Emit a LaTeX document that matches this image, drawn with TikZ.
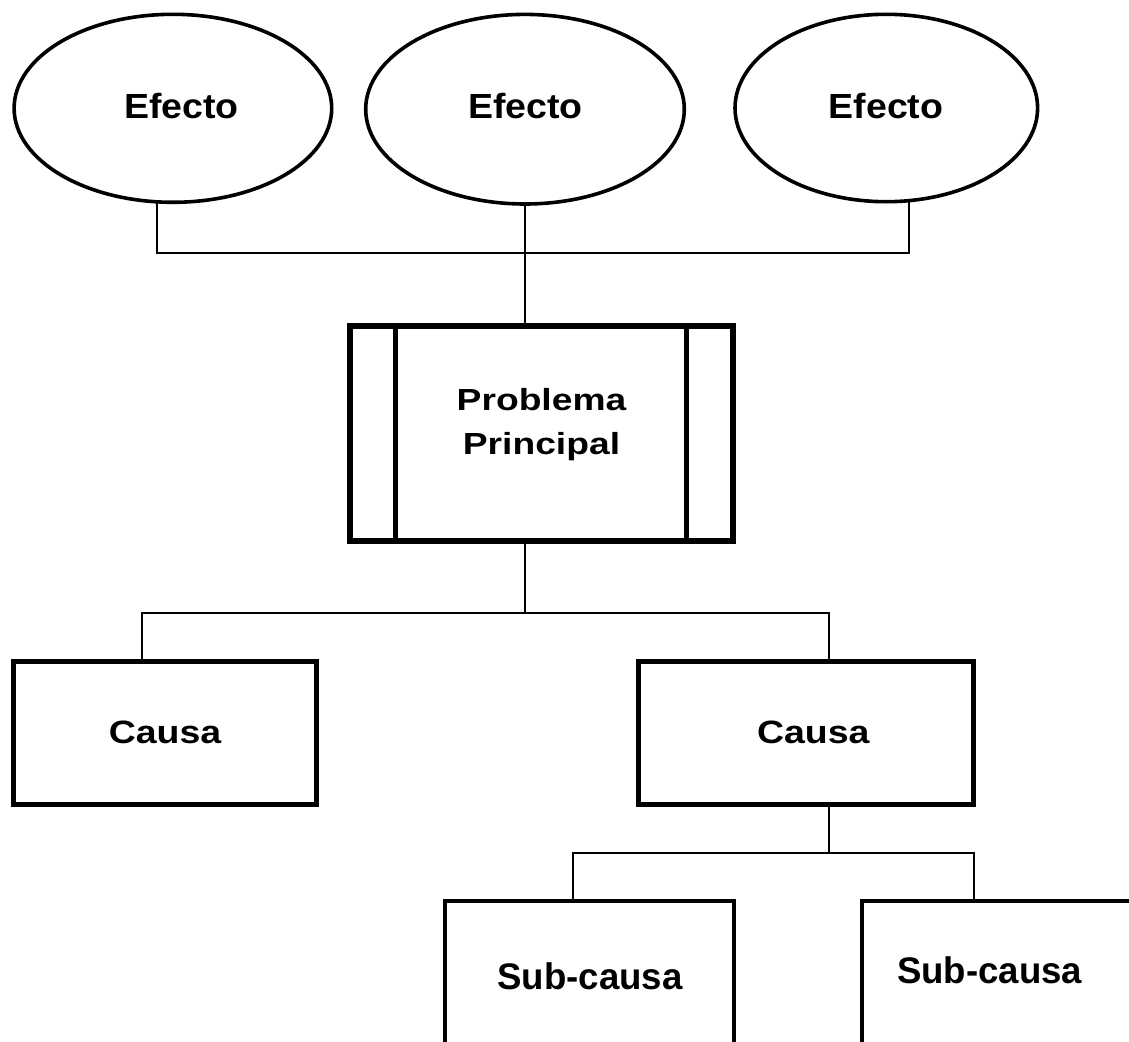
\documentclass[tikz,border=0pt]{standalone}
\usepackage{fontspec}
\setmainfont{Liberation Sans}
\usepackage{graphicx}
\usetikzlibrary{shapes.geometric}
\tikzset{
  eff/.style={ellipse, draw, line width=3.6pt, inner sep=0pt, outer sep=0pt},
  prob/.style={rectangle, draw, line width=6pt, inner sep=0pt, outer sep=0pt},
  probbar/.style={line width=5pt},
  cause/.style={rectangle, draw, line width=4.7pt, inner sep=0pt, outer sep=0pt},
  subbox/.style={rectangle, draw, line width=4pt, inner sep=0pt, outer sep=0pt},
  conn/.style={line width=2.2pt},
  lbl/.style={inner sep=0pt, outer sep=0pt, anchor=base, font=\bfseries},
}
\newcommand{\efftxt}{\fontsize{34.9}{40}\selectfont\scalebox{1.075}[1]{Efecto}}
\newcommand{\cautxt}{\fontsize{32.3}{38}\selectfont\scalebox{1.16}[1]{Causa}}
\newcommand{\subtxt}{\fontsize{37}{44}\selectfont\scalebox{0.99}[1]{Sub-causa}}
\begin{document}
\begin{tikzpicture}[x=1pt,y=-1pt]
\clip (0,0) rectangle (1129,1041);
\fill[white] (0,0) rectangle (1129,1041);

% Effects
\node[eff, minimum width=317.6pt, minimum height=188pt] (e1) at (172.9,108.3) {};
\node[eff, minimum width=318.6pt, minimum height=189.6pt] (e2) at (525,109.2) {};
\node[eff, minimum width=302.6pt, minimum height=187.4pt] (e3) at (886.3,108) {};
\node[lbl] (t1) at (181.5,118.5) {\efftxt};
\node[lbl] (t2) at (525.5,118.5) {\efftxt};
\node[lbl] (t3) at (886,118.8) {\efftxt};

% Main problem
\node[prob, minimum width=382.7pt, minimum height=215.2pt] (p) at (541.6,433.1) {};
\draw[probbar] ([xshift=45.5pt]p.north west) -- ([xshift=45.5pt]p.south west);
\draw[probbar] ([xshift=-46.2pt]p.north east) -- ([xshift=-46.2pt]p.south east);
\node[lbl] (pt) at (541.5,410.7) {\fontsize{30.5}{43.3}\selectfont\scalebox{1.22}[1]{\begin{tabular}[t]{@{}c@{}}Problema\\Principal\end{tabular}}};

% Causes
\node[cause, minimum width=302.9pt, minimum height=143.1pt] (c1) at (165.2,733.2) {};
\node[cause, minimum width=334.9pt, minimum height=143.1pt] (c2) at (805.8,733.2) {};
\node[lbl] (ct1) at (165,743.5) {\cautxt};
\node[lbl] (ct2) at (813.3,743.5) {\cautxt};

% Sub-causes
\node[subbox, minimum width=288.2pt, minimum height=200pt, anchor=north] (s1) at (589.4,901.3) {};
\node[subbox, minimum width=300pt, minimum height=200pt, anchor=north west] (s2) at (862,901.3) {};
\node[lbl] (st1) at (590,989.5) {\subtxt};
\node[lbl] (st2) at (989.7,983) {\subtxt};

% Connectors
\coordinate (bus1) at (525,253);
\coordinate (bus2) at (525,612.7);
\coordinate (bus3) at (829.3,852.7);
\draw[conn] ([xshift=-16.2pt]e1.south) |- (bus1) -| ([xshift=22.7pt]e3.south);
\draw[conn] (e2.south) -- (e2.south |- p.north);
\draw[conn] (e2.south |- p.south) -- (bus2);
\draw[conn] ([xshift=-23.5pt]c1.north) |- (bus2) -| ([xshift=23.5pt]c2.north);
\draw[conn] ([xshift=23.5pt]c2.south) -- (bus3);
\draw[conn] ([xshift=-16.1pt]s1.north) |- (bus3) -| ([xshift=111.8pt]s2.north west);
\end{tikzpicture}
\end{document}
